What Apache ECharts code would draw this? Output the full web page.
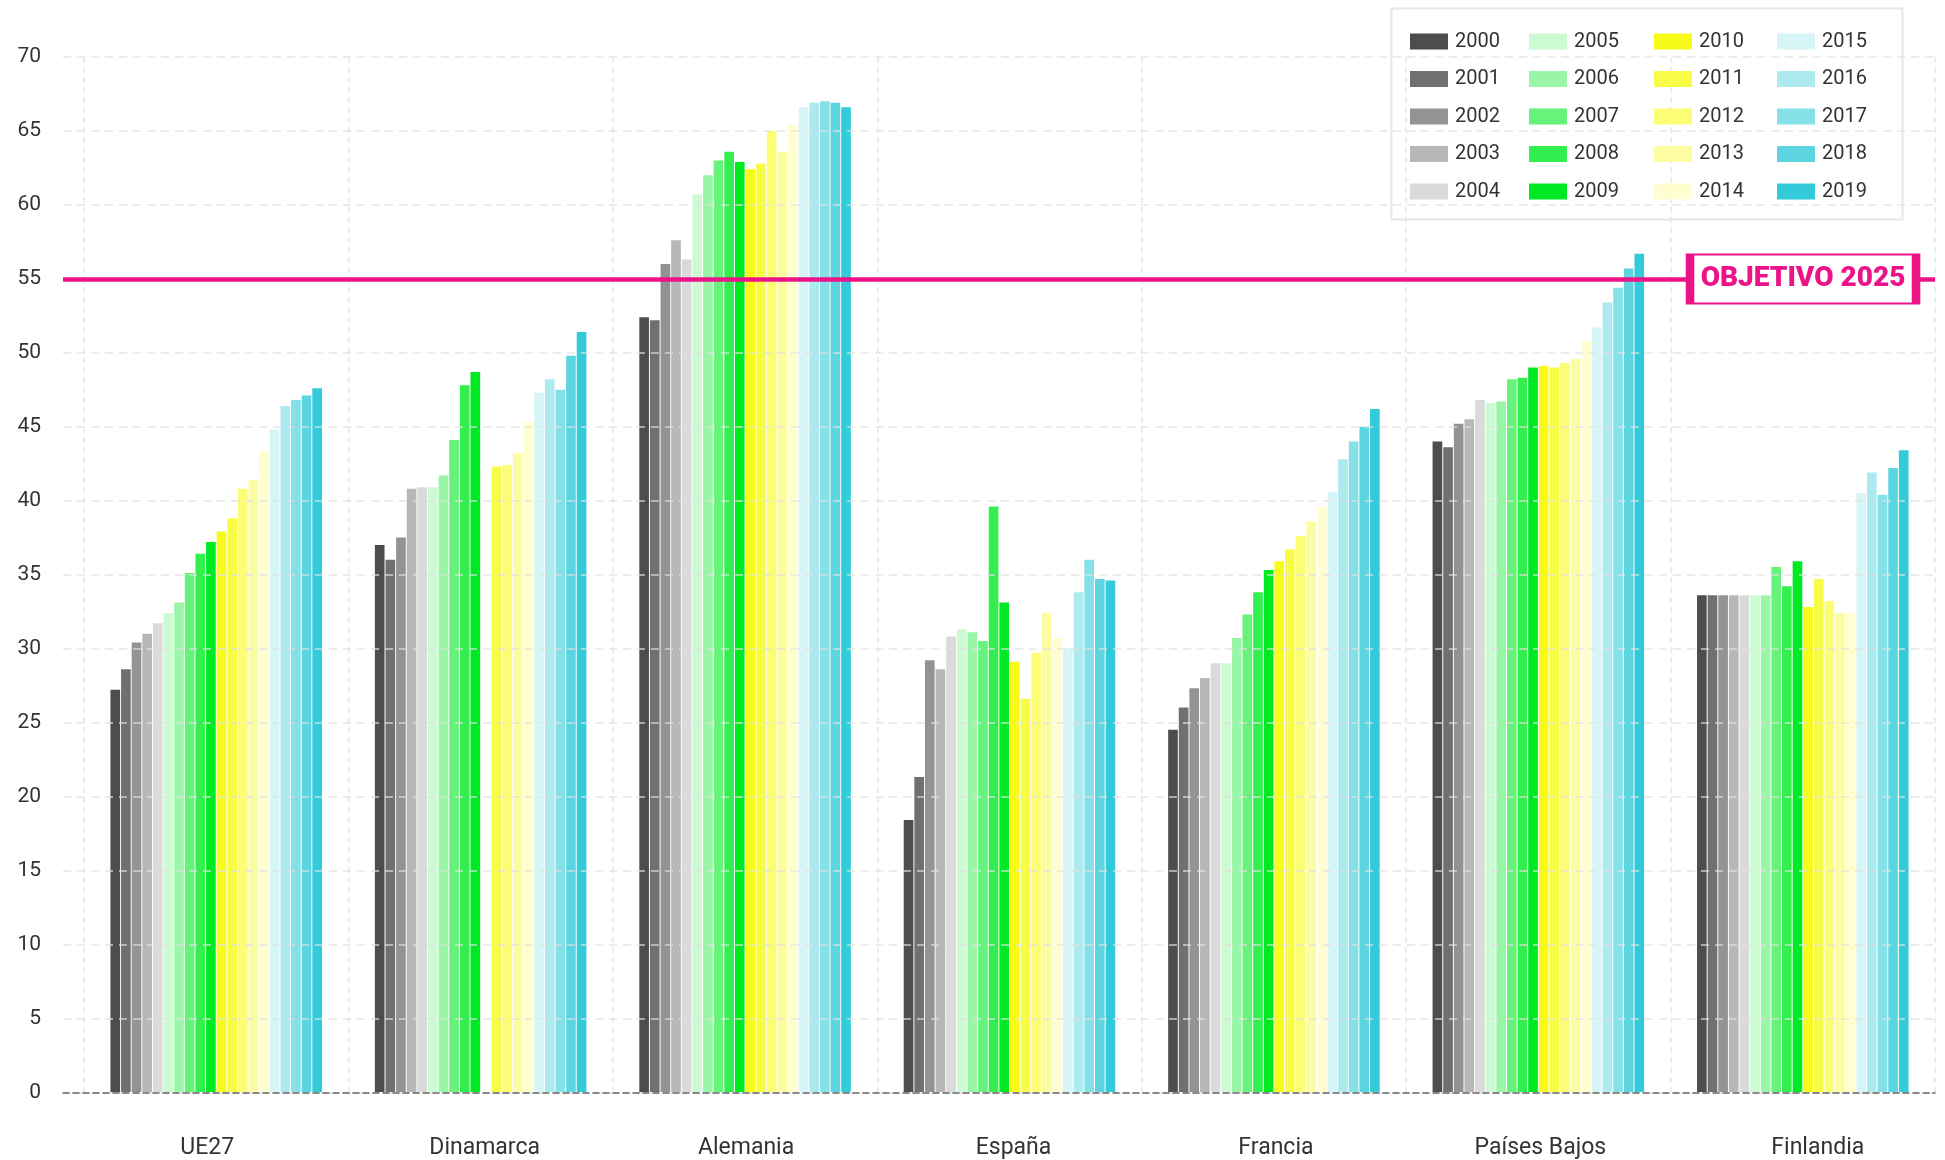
<!DOCTYPE html>
<html>
<head>
<meta charset="utf-8">
<script src="https://cdn.jsdelivr.net/npm/echarts@6/dist/echarts.min.js"></script>
<style>
  html, body { margin: 0; padding: 0; background: #fff; }
  #chart { width: 1945px; height: 1160px; }
</style>
</head>
<body>
<div id="chart"></div>
<script>
// categorias y años
const paises = ['UE27', 'Dinamarca', 'Alemania', 'España', 'Francia', 'Países Bajos', 'Finlandia']
const anios = ['2000', '2001', '2002', '2003', '2004', '2005', '2006', '2007', '2008', '2009',
  '2010', '2011', '2012', '2013', '2014', '2015', '2016', '2017', '2018', '2019']

// valores por país, 2000 -> 2019
const ue27 = [27.2, 28.6, 30.4, 31.0, 31.7, 32.4, 33.1, 35.1, 36.4, 37.2, 37.9, 38.8, 40.8, 41.4, 43.3, 44.8, 46.4, 46.8, 47.1, 47.6]
const dinamarca = [37.0, 36.0, 37.5, 40.8, 40.9, 40.9, 41.7, 44.1, 47.8, 48.7, null, 42.3, 42.4, 43.2, 45.3, 47.3, 48.2, 47.5, 49.8, 51.4]
const alemania = [52.4, 52.2, 56.0, 57.6, 56.3, 60.7, 62.0, 63.0, 63.6, 62.9, 62.4, 62.8, 65.0, 63.6, 65.4, 66.6, 66.9, 67.0, 66.9, 66.6]
const espana = [18.4, 21.3, 29.2, 28.6, 30.8, 31.3, 31.1, 30.5, 39.6, 33.1, 29.1, 26.6, 29.7, 32.4, 30.7, 30.0, 33.8, 36.0, 34.7, 34.6]
const francia = [24.5, 26.0, 27.3, 28.0, 29.0, 29.0, 30.7, 32.3, 33.8, 35.3, 35.9, 36.7, 37.6, 38.6, 39.6, 40.6, 42.8, 44.0, 45.0, 46.2]
const paisesBajos = [44.0, 43.6, 45.2, 45.5, 46.8, 46.6, 46.7, 48.2, 48.3, 49.0, 49.1, 49.0, 49.3, 49.6, 50.8, 51.7, 53.4, 54.4, 55.7, 56.7]
const finlandia = [33.6, 33.6, 33.6, 33.6, 33.6, 33.6, 33.6, 35.5, 34.2, 35.9, 32.8, 34.7, 33.2, 32.4, 32.4, 40.5, 41.9, 40.4, 42.2, 43.4]

const yTicks = [0, 5, 10, 15, 20, 25, 30, 35, 40, 45, 50, 55, 60, 65, 70]
const objetivo = 55
const objetivoTexto = 'OBJETIVO 2025'

const colores = [
  '#4d4d4d', '#707070', '#939393', '#b7b7b7', '#dadada',
  '#ccfad3', '#99f6a7', '#66f27b', '#33ee4f', '#00ea23',
  '#f8fb19', '#f9fc47', '#fbfd75', '#fcfda3', '#fefed1',
  '#d6f5f7', '#adeaf0', '#85e0e8', '#5cd5e1', '#33cbd9'
]

const porPais = [ue27, dinamarca, alemania, espana, francia, paisesBajos, finlandia]
const rosa = '#ec1389'
const fuente = 'Roboto'

// pequeño desplazamiento horizontal de cada etiqueta de país (px)
const desplazaEtiqueta = [-9, 4, 1, 4, 2, 2, 15]

const chart = echarts.init(document.getElementById('chart'))

const barras = anios.map((anio, i) => ({
  name: anio,
  type: 'bar',
  xAxisIndex: 1,
  yAxisIndex: 1,
  barCategoryGap: '20%',
  barGap: '10%',
  itemStyle: { color: colores[i] },
  data: porPais.map(p => p[i])
}))

// 4 columnas de leyenda, 5 años cada una
const leyendaX = [1410, 1529, 1654, 1777]
const leyendas = leyendaX.map((x, c) => ({
  orient: 'vertical',
  left: x,
  top: 31.5,
  padding: 0,
  z: 50,
  itemWidth: 38,
  itemHeight: 16,
  itemGap: 17.5,
  icon: 'rect',
  selectedMode: false,
  textStyle: { fontFamily: fuente, fontSize: 20, color: '#333', padding: [0, 0, 0, 2] },
  data: anios.slice(c * 5, c * 5 + 5)
}))

const richEtiquetas = {}
desplazaEtiqueta.forEach((d, i) => {
  richEtiquetas['p' + i] = {
    fontFamily: fuente, fontSize: 23, color: '#333',
    padding: d >= 0 ? [0, 0, 0, 2 * d] : [0, -2 * d, 0, 0]
  }
})

const option = {
  animation: false,
  backgroundColor: '#fff',
  color: colores,
  textStyle: { fontFamily: fuente },
  grid: [
    { left: 63, right: 10, top: 57, bottom: 67 },
    { left: 84, right: 10, top: 57, bottom: 67 }
  ],
  legend: leyendas,
  graphic: [{
    type: 'rect',
    left: 1389,
    top: 6,
    shape: { width: 511, height: 211 },
    style: { fill: 'none', stroke: '#e6e6e6', lineWidth: 2 },
    z: 100
  }],
  xAxis: [
    {
      type: 'value', gridIndex: 0, min: 0, max: 1, z: 10,
      axisLabel: { show: false }, axisTick: { show: false }, splitLine: { show: false },
      axisLine: { show: true, lineStyle: { color: '#666', width: 1.5, type: [6, 4] } }
    },
    {
      type: 'category', gridIndex: 1, data: paises,
      axisLine: { show: false }, axisTick: { show: false },
      axisLabel: {
        fontFamily: fuente, fontSize: 23, color: '#333', margin: 45,
        formatter: (v, i) => '{p' + i + '|' + v + '}',
        rich: richEtiquetas
      },
      splitLine: { show: true, lineStyle: { color: '#e8e8e8', width: 1.5, type: [6, 4] } }
    }
  ],
  yAxis: [
    {
      type: 'value', gridIndex: 0, min: 0, max: 70, interval: 5, z: 10,
      axisLine: { show: false }, axisTick: { show: false },
      axisLabel: {
        fontFamily: fuente, fontSize: 21, color: '#333', margin: 22,
        formatter: v => (yTicks.includes(v) ? String(v) : '')
      },
      splitLine: { show: true, lineStyle: { color: 'rgba(225,225,225,0.83)', width: 1.5, type: [8, 6] } }
    },
    {
      type: 'value', gridIndex: 1, min: 0, max: 70, interval: 5, show: false
    }
  ],
  series: barras.concat([{
    name: 'objetivo',
    type: 'line',
    xAxisIndex: 0,
    yAxisIndex: 0,
    data: [],
    z: 20,
    markLine: {
      silent: true,
      z: 25,
      symbol: 'none',
      label: { show: false },
      lineStyle: { color: rosa, width: 4.5, type: 'solid' },
      data: [{ yAxis: objetivo }]
    },
    markPoint: {
      silent: true,
      z: 30,
      symbol: 'rect',
      symbolSize: [226, 49],
      itemStyle: { color: '#fff', borderColor: rosa, borderWidth: 4 },
      label: {
        show: true, position: 'inside', formatter: objetivoTexto,
        color: rosa, fontFamily: fuente, fontWeight: 900, fontSize: 28
      },
      data: [{ coord: [0.9295, objetivo] }]
    }
  }])
}

chart.setOption(option)
</script>
</body>
</html>
